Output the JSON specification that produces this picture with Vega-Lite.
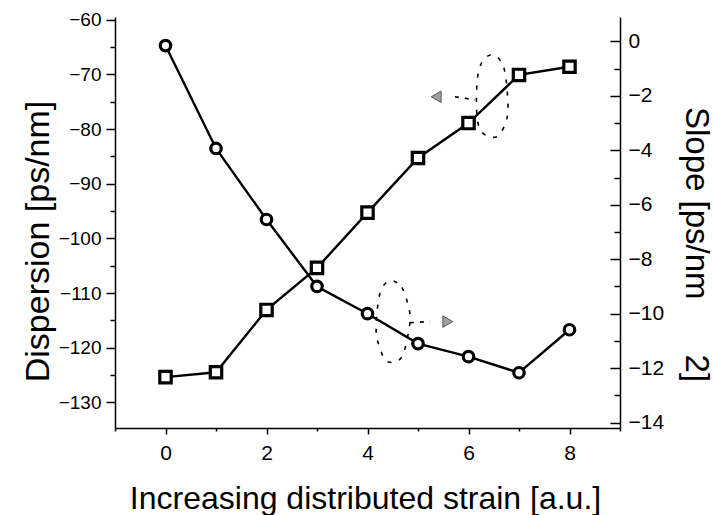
{
  "$schema": "https://vega.github.io/schema/vega-lite/v6.json",
  "width": 505,
  "height": 411,
  "autosize": {"type": "none"},
  "padding": {"left": 115, "top": 17, "right": 94, "bottom": 87},
  "background": "white",
  "config": {
    "view": {"stroke": null},
    "font": "Liberation Sans",
    "axis": {
      "domainColor": "black", "tickColor": "black", "labelColor": "black", "titleColor": "black",
      "grid": false, "labelFont": "Liberation Sans", "titleFont": "Liberation Sans",
      "titleFontWeight": "normal", "domainWidth": 1.5, "tickWidth": 1.5
    }
  },
  "datasets": {
    "dispersion": [
      {"x": 0, "y": -125.4}, {"x": 1, "y": -124.5}, {"x": 2, "y": -113.1}, {"x": 3, "y": -105.4},
      {"x": 4, "y": -95.3}, {"x": 5, "y": -85.3}, {"x": 6, "y": -78.9}, {"x": 7, "y": -70.1}, {"x": 8, "y": -68.6}
    ],
    "slope": [
      {"x": 0, "y": -0.15}, {"x": 1, "y": -3.93}, {"x": 2, "y": -6.54}, {"x": 3, "y": -9.0},
      {"x": 4, "y": -10.0}, {"x": 5, "y": -11.1}, {"x": 6, "y": -11.58}, {"x": 7, "y": -12.17}, {"x": 8, "y": -10.59}
    ],
    "ellipse1": [
      {"o": 1, "x": 6.48, "y": -66.4}, {"o": 2, "x": 6.70, "y": -68.8}, {"o": 3, "x": 6.78, "y": -75.2},
      {"o": 4, "x": 6.74, "y": -78.7}, {"o": 5, "x": 6.56, "y": -81.4}, {"o": 6, "x": 6.28, "y": -80.7},
      {"o": 7, "x": 6.17, "y": -77.8}, {"o": 8, "x": 6.17, "y": -71.4}, {"o": 9, "x": 6.26, "y": -67.9}
    ],
    "arrow1": [{"x": 5.73, "y": -74.1}, {"x": 6.13, "y": -74.65}],
    "head1": [{"x": 5.36, "y": -74.1}],
    "ellipse2": [
      {"o": 1, "x": 4.45, "y": -8.79}, {"o": 2, "x": 4.68, "y": -9.04}, {"o": 3, "x": 4.80, "y": -9.67},
      {"o": 4, "x": 4.84, "y": -10.33}, {"o": 5, "x": 4.68, "y": -11.58}, {"o": 6, "x": 4.39, "y": -11.76},
      {"o": 7, "x": 4.23, "y": -11.18}, {"o": 8, "x": 4.17, "y": -10.51}, {"o": 9, "x": 4.25, "y": -9.23}
    ],
    "arrow2": [{"x": 4.84, "y": -10.33}, {"x": 5.24, "y": -10.29}],
    "head2": [{"x": 5.59, "y": -10.29}]
  },
  "encoding": {
    "x": {
      "field": "x", "type": "quantitative",
      "scale": {"domain": [-1, 9], "nice": false, "zero": false},
      "axis": {
        "title": "Increasing distributed strain [a.u.]",
        "titleFontSize": 32, "titleBaseline": "alphabetic", "titleY": 80, "titleX": 250, "titleAlign": "center",
        "values": [-1, 0, 1, 2, 3, 4, 5, 6, 7, 8, 9],
        "labelExpr": "datum.value % 2 == 0 ? datum.label : ''",
        "tickSize": {"expr": "datum.value % 2 == 0 ? 6 : 3"},
        "labelFontSize": 21, "labelPadding": 8, "labelFlush": false, "labelOverlap": false
      }
    }
  },
  "layer": [
    {
      "encoding": {
        "y": {
          "field": "y", "type": "quantitative",
          "scale": {"domain": [-134.7, -59.5], "nice": false, "zero": false},
          "axis": {
            "orient": "left",
            "title": "Dispersion [ps/nm]",
            "titleFontSize": 34, "titleAngle": -90, "titleBaseline": "alphabetic",
            "titleX": -67, "titleY": 224, "titleAlign": "center",
            "values": [-130, -125, -120, -115, -110, -105, -100, -95, -90, -85, -80, -75, -70, -65, -60],
            "labelExpr": "datum.value % 10 == 0 ? datum.label : ''",
            "tickSize": {"expr": "datum.value % 10 == 0 ? 9 : 5"},
            "labelFontSize": 19, "labelPadding": 5, "labelFlush": false, "labelOverlap": false
          }
        }
      },
      "layer": [
        {"data": {"name": "dispersion"}, "mark": {"type": "line", "color": "black", "strokeWidth": 2.4}},
        {"data": {"name": "dispersion"}, "mark": {"type": "point", "shape": "square", "size": 130, "filled": true, "fill": "white", "stroke": "black", "strokeWidth": 3.2, "opacity": 1}},
        {"data": {"name": "ellipse1"}, "mark": {"type": "line", "interpolate": "cardinal-closed", "color": "black", "strokeWidth": 1.6, "strokeDash": [4, 8]}, "encoding": {"order": {"field": "o", "type": "quantitative"}}},
        {"data": {"name": "arrow1"}, "mark": {"type": "line", "color": "black", "strokeWidth": 1.6, "strokeDash": [4, 6]}},
        {"data": {"name": "head1"}, "mark": {"type": "point", "shape": "triangle-left", "size": 130, "filled": true, "fill": "#a0a0a0", "stroke": "#555555", "strokeWidth": 1, "opacity": 1}}
      ]
    },
    {
      "encoding": {
        "y": {
          "field": "y", "type": "quantitative",
          "scale": {"domain": [-14.2, 0.9], "nice": false, "zero": false},
          "axis": {
            "orient": "right",
            "title": "Slope [ps/nm\u00a0\u00a0\u00a0\u00a0\u00a0\u00a02]",
            "titleFontSize": 33, "titleAngle": 90, "titleBaseline": "alphabetic",
            "titleX": 65, "titleY": 227, "titleAlign": "center",
            "values": [-14, -13, -12, -11, -10, -9, -8, -7, -6, -5, -4, -3, -2, -1, 0],
            "labelExpr": "datum.value % 2 == 0 ? datum.label : ''",
            "tickSize": {"expr": "datum.value % 2 == 0 ? -10 : -6"},
            "labelFontSize": 21, "labelPadding": 18, "labelFlush": false, "labelOverlap": false
          }
        }
      },
      "layer": [
        {"data": {"name": "slope"}, "mark": {"type": "line", "color": "black", "strokeWidth": 2.4}},
        {"data": {"name": "slope"}, "mark": {"type": "point", "shape": "circle", "size": 110, "filled": true, "fill": "white", "stroke": "black", "strokeWidth": 3.2, "opacity": 1}},
        {"data": {"name": "ellipse2"}, "mark": {"type": "line", "interpolate": "cardinal-closed", "color": "black", "strokeWidth": 1.6, "strokeDash": [4, 8]}, "encoding": {"order": {"field": "o", "type": "quantitative"}}},
        {"data": {"name": "arrow2"}, "mark": {"type": "line", "color": "black", "strokeWidth": 1.6, "strokeDash": [4, 6]}},
        {"data": {"name": "head2"}, "mark": {"type": "point", "shape": "triangle-right", "size": 130, "filled": true, "fill": "#a0a0a0", "stroke": "#555555", "strokeWidth": 1, "opacity": 1}}
      ]
    }
  ],
  "resolve": {"scale": {"y": "independent"}}
}
